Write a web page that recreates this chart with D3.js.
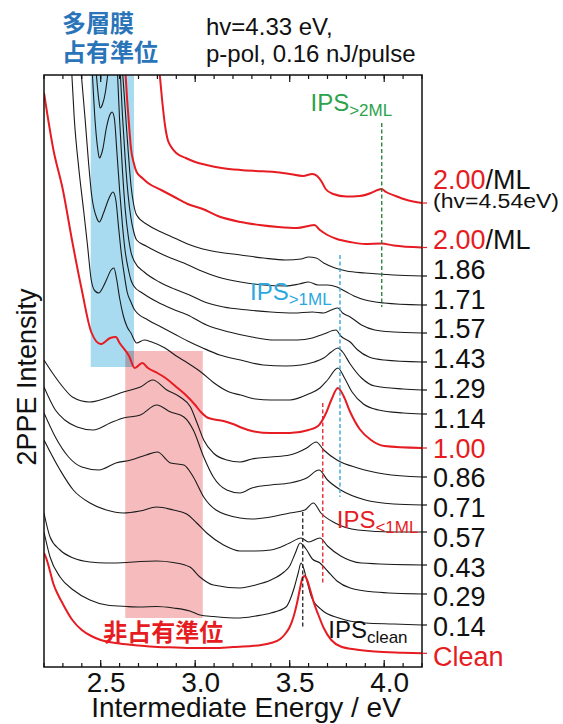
<!DOCTYPE html>
<html><head><meta charset="utf-8">
<script src="https://cdn.jsdelivr.net/npm/d3@7"></script>
<style>
body{margin:0;background:#fff;}
svg{display:block;font-family:"Liberation Sans",Arial,sans-serif;}
</style></head><body>
<svg id="chart" width="563" height="724"></svg>
<script>
// 2PPE spectra, stacked by coverage: [intermediate energy (eV), intensity (arb. u.)]
// null marks the stretch where a trace runs off the top of the scale.
const specClean = [[2.200,114],[2.215,107],[2.23,97],[2.25,83],[2.275,72],[2.30,63],[2.35,47],[2.40,37],[2.45,31],[2.50,27],[2.60,23.5],[2.70,21.5],[2.80,20],[2.90,19.5],[3.00,19],[3.10,19],[3.20,20],[3.30,21],[3.35,22],[3.40,24],[3.45,28],[3.48,34],[3.50,40],[3.52,50],[3.54,65],[3.555,79],[3.57,90],[3.58,91],[3.59,88],[3.61,76],[3.63,63],[3.65,53],[3.68,39],[3.72,27],[3.77,20.5],[3.85,17.5],[3.95,15.5],[4.10,14.3],[4.20,13.7]];
const spec014 = [[2.20,135],[2.232,110],[2.285,90],[2.355,77],[2.443,67],[2.532,62],[2.638,60.5],[2.708,60],[2.796,60.5],[2.884,59],[2.972,56],[3.025,52],[3.096,50.5],[3.237,49],[3.32,51],[3.40,54],[3.48,60],[3.525,80],[3.545,94],[3.56,104],[3.575,98],[3.59,87],[3.615,70],[3.67,57],[3.76,49],[3.90,44],[4.05,43],[4.20,42]];
const spec029 = [[2.20,154],[2.232,130],[2.285,117],[2.355,109],[2.443,105],[2.532,104],[2.638,104.5],[2.708,105.5],[2.796,106],[2.884,104.5],[2.972,100],[3.025,90],[3.096,82],[3.237,79],[3.32,82],[3.40,87],[3.47,95],[3.50,101],[3.53,114],[3.555,124],[3.57,122],[3.59,117],[3.62,108],[3.66,104],[3.70,96],[3.75,86],[3.82,79],[3.95,75],[4.20,73]];
const spec043 = [[2.20,227],[2.285,197],[2.355,177],[2.443,164],[2.53,157],[2.62,154],[2.708,156],[2.796,160],[2.884,157],[2.955,153],[3.008,144],[3.061,134],[3.15,122],[3.237,116],[3.32,116],[3.40,117],[3.50,124],[3.56,129],[3.60,125],[3.66,129],[3.70,121],[3.77,111],[3.88,104],[4.20,102]];
const spec057 = [[2.20,254],[2.26,230],[2.33,210],[2.40,200],[2.49,197],[2.58,204],[2.66,207],[2.74,212],[2.80,215],[2.87,204],[2.94,202],[2.99,190],[3.045,170],[3.11,157],[3.237,149],[3.30,148],[3.40,150],[3.50,154],[3.58,157],[3.625,164],[3.665,154],[3.74,144],[3.86,137],[4.05,135],[4.20,135]];
const spec071 = [[2.20,280],[2.26,257],[2.31,247],[2.375,240],[2.46,237],[2.55,244],[2.62,249],[2.71,252],[2.796,262],[2.87,255],[2.94,250],[2.99,237],[3.045,210],[3.096,190],[3.167,177],[3.237,174],[3.30,179],[3.40,182],[3.50,184],[3.59,189],[3.655,197],[3.70,187],[3.77,177],[3.90,167],[4.05,163],[4.20,162]];
const spec086 = [[2.20,307],[2.245,294],[2.30,280],[2.35,270],[2.44,265],[2.53,269],[2.62,275],[2.71,280],[2.775,287],[2.85,277],[2.92,270],[2.975,260],[3.01,244],[3.045,227],[3.096,214],[3.167,207],[3.237,205],[3.30,208],[3.40,210],[3.50,212],[3.59,219],[3.64,225],[3.68,217],[3.75,207],[3.86,199],[4.00,193],[4.20,190]];
const spec100 = [[2.20,574],[2.25,517],[2.30,477],[2.35,425],[2.40,377],[2.45,335],[2.50,323],[2.55,329],[2.58,330],[2.60,324],[2.65,311],[2.68,299],[2.72,304],[2.75,299],[2.80,294],[2.85,288],[2.90,280],[2.95,272],[3.00,262],[3.03,255],[3.07,249],[3.15,246],[3.20,243],[3.25,239],[3.30,236],[3.40,234],[3.50,234],[3.60,237],[3.65,241],[3.69,253],[3.72,267],[3.755,279],[3.785,271],[3.82,255],[3.87,238],[3.93,227],[4.00,221],[4.20,219]];
const spec114 = [[2.346,597],[2.36,549],[2.385,497],[2.41,456],[2.43,422],[2.45,387],[2.47,376],[2.49,374],[2.51,379],[2.53,387],[2.555,397],[2.57,399],[2.585,387],[2.60,369],[2.62,351],[2.64,340],[2.66,334],[2.69,324],[2.73,327],[2.77,325],[2.84,319],[2.90,311],[2.96,304],[3.03,295],[3.10,284],[3.18,275],[3.24,272],[3.32,268],[3.40,267],[3.50,267],[3.60,273],[3.66,279],[3.70,287],[3.755,299],[3.79,289],[3.83,275],[3.89,263],[3.97,257],[4.10,254],[4.20,253]];
const spec129 = [[2.395,597],[2.40,587],[2.417,549],[2.435,506],[2.452,472],[2.479,449],[2.493,445],[2.515,454],[2.54,467],[2.565,475],[2.58,467],[2.595,439],[2.61,412],[2.625,392],[2.64,375],[2.66,365],[2.68,357],[2.75,347],[2.82,340],[2.89,333],[2.96,326],[3.04,319],[3.13,312],[3.24,307],[3.36,302],[3.48,301],[3.56,302],[3.63,305],[3.68,309],[3.72,315],[3.755,319],[3.78,315],[3.82,303],[3.88,289],[3.95,281],[4.10,278],[4.20,277]];
const spec143 = [[2.455,597],[2.47,547],[2.485,517],[2.493,509],[2.51,517],[2.53,539],[2.548,552],[2.56,555],[2.572,549],[2.585,517],[2.60,477],[2.615,442],[2.63,415],[2.645,399],[2.66,387],[2.675,381],[2.72,374],[2.80,365],[2.88,358],[2.96,352],[3.06,342],[3.18,335],[3.30,330],[3.42,327],[3.54,327],[3.62,329],[3.68,333],[3.745,337],[3.77,331],[3.82,325],[3.86,317],[3.92,310],[4.00,307],[4.20,305]];
const spec157 = [[2.475,597],[2.49,567],[2.497,559],[2.51,563],[2.525,575],[2.54,597],[2.56,null],[2.588,597],[2.60,547],[2.615,497],[2.63,457],[2.645,432],[2.66,415],[2.68,405],[2.73,395],[2.81,385],[2.89,378],[2.97,372],[3.05,365],[3.15,360],[3.28,357],[3.40,355],[3.52,354],[3.62,355],[3.68,354],[3.72,357],[3.755,359],[3.78,354],[3.82,350],[3.88,342],[3.95,337],[4.05,335],[4.20,334]];
const spec171 = [[2.603,597],[2.615,552],[2.63,507],[2.645,472],[2.66,449],[2.675,435],[2.69,427],[2.74,421],[2.80,415],[2.87,409],[2.94,404],[3.02,397],[3.12,390],[3.24,385],[3.36,382],[3.48,381],[3.55,383],[3.60,385],[3.65,382],[3.70,382],[3.75,380],[3.80,375],[3.84,371],[3.90,367],[4.00,364],[4.20,362]];
const spec186 = [[2.615,597],[2.63,557],[2.645,517],[2.66,482],[2.675,462],[2.69,452],[2.75,442],[2.82,435],[2.89,429],[2.96,423],[3.04,418],[3.12,415],[3.24,412],[3.36,409],[3.48,407],[3.56,408],[3.60,410],[3.64,409],[3.68,404],[3.74,399],[3.80,396],[3.90,394],[4.05,392],[4.20,391]];
const spec200 = [[2.63,597],[2.64,567],[2.65,542],[2.66,519],[2.675,504],[2.69,495],[2.72,489],[2.75,484],[2.82,477],[2.89,470],[2.96,463],[3.04,458],[3.12,451],[3.24,445],[3.34,442],[3.44,440],[3.54,439],[3.60,441],[3.63,442],[3.66,437],[3.70,432],[3.75,428],[3.82,425],[3.90,423],[3.985,423.5],[4.05,421.5],[4.20,419.5]];
// 2.00 ML taken with hv = 4.54 eV
const spec200hv454 = [[2.81,597],[2.825,567],[2.84,542],[2.855,527],[2.87,521],[2.90,514],[2.95,509],[3.00,505],[3.06,502],[3.14,499],[3.24,497],[3.32,496],[3.42,495],[3.50,493],[3.57,491],[3.62,493],[3.645,491],[3.67,485],[3.69,478],[3.73,473],[3.80,470.5],[3.87,471],[3.93,474],[3.965,477],[3.985,478],[4.01,475],[4.06,471],[4.12,467],[4.20,464]];

const coverages = ["Clean","0.14","0.29","0.43","0.57","0.71","0.86","1.00","1.14","1.29","1.43","1.57","1.71","1.86","2.00"];
const spectra = [specClean,spec014,spec029,spec043,spec057,spec071,spec086,spec100,spec114,spec129,spec143,spec157,spec171,spec186,spec200];
const highlighted = ["Clean","1.00","2.00"];

// image-potential-state positions (eV) with the intensity span of each marker
const ipsMarks = [
  {name:"clean", e:3.569, lo:40, hi:155},
  {name:"<1ML", e:3.675, lo:84, hi:264},
  {name:">1ML", e:3.766, lo:170, hi:412},
  {name:">2ML", e:3.987, lo:360, hi:544}
];
// shaded energy bands
const occupiedBand = {e0:2.447, e1:2.676, lo:300, hi:592};
const unoccupiedBand = {e0:2.63, e1:3.04, lo:49, hi:316};

const xTicksMajor = [2.5, 3.0, 3.5, 4.0];
const xTicksMinor = d3.range(22, 43).map(d => d / 10);

const RED = "#e61c22", INK = "#1a1a1a";
const svg = d3.select("#chart");
const L = 44, R = 422, T = 75, B = 667;
const x = d3.scaleLinear().domain([2.2, 4.2]).range([L, R]);
const y = d3.scaleLinear().domain([0, 592]).range([B, T]);

svg.append("defs").append("clipPath").attr("id","plotClip")
  .append("rect").attr("x",L).attr("y",T).attr("width",R-L).attr("height",B-T);

const plot = svg.append("g").attr("clip-path","url(#plotClip)");

// shaded regions
plot.append("rect")
  .attr("x", x(unoccupiedBand.e0)).attr("width", x(unoccupiedBand.e1)-x(unoccupiedBand.e0))
  .attr("y", y(unoccupiedBand.hi)).attr("height", y(unoccupiedBand.lo)-y(unoccupiedBand.hi))
  .attr("fill","#f6bcbd");
plot.append("rect")
  .attr("x", x(occupiedBand.e0)).attr("width", x(occupiedBand.e1)-x(occupiedBand.e0))
  .attr("y", y(occupiedBand.hi)).attr("height", y(occupiedBand.lo)-y(occupiedBand.hi))
  .attr("fill","#a8dbf0").style("mix-blend-mode","multiply");

const line = d3.line()
  .defined(d => d[1] !== null)
  .x(d => x(d[0])).y(d => y(d[1]))
  .curve(d3.curveMonotoneX);

const series = coverages.map((c, i) => ({label:c, data:spectra[i], red:highlighted.includes(c)}));
series.push({label:"2.00 (hv=4.54eV)", data:spec200hv454, red:true});

plot.selectAll("path.trace").data(series.filter(s => !s.red)).join("path")
  .attr("class","trace").attr("d", s => line(s.data))
  .attr("fill","none").attr("stroke",INK).attr("stroke-width",1.1);
plot.selectAll("path.traceRed").data(series.filter(s => s.red)).join("path")
  .attr("class","traceRed").attr("d", s => line(s.data))
  .attr("fill","none").attr("stroke",RED).attr("stroke-width",2);

// IPS markers
const markColor = {"clean":"#222", "<1ML":RED, ">1ML":"#2a9fd6", ">2ML":"#1e7a34"};
plot.selectAll("line.ips").data(ipsMarks).join("line")
  .attr("x1", d => x(d.e)).attr("x2", d => x(d.e))
  .attr("y1", d => y(d.hi)).attr("y2", d => y(d.lo))
  .attr("stroke", d => markColor[d.name]).attr("stroke-width",1.3)
  .attr("stroke-dasharray","4,2.5");

// frame
svg.append("rect").attr("x",L).attr("y",T).attr("width",R-L).attr("height",B-T)
  .attr("fill","none").attr("stroke","#111").attr("stroke-width",1.5);

// inward ticks, bottom and top
function tickRow(yPos, dir) {
  const g = svg.append("g");
  g.selectAll("line.minor").data(xTicksMinor).join("line")
    .attr("x1", d => x(d)).attr("x2", d => x(d))
    .attr("y1", yPos).attr("y2", yPos + dir * 4)
    .attr("stroke","#111").attr("stroke-width",1.2);
  g.selectAll("line.major").data(xTicksMajor).join("line")
    .attr("x1", d => x(d)).attr("x2", d => x(d))
    .attr("y1", yPos).attr("y2", yPos + dir * 7)
    .attr("stroke","#111").attr("stroke-width",1.2);
}
tickRow(B, -1);
tickRow(T, 1);

// tick labels via axis
const xAxis = d3.axisBottom(x).tickValues(xTicksMajor).tickSize(0).tickPadding(5).tickFormat(d3.format(".1f"));
const ax = svg.append("g").attr("transform",`translate(0,${B})`).call(xAxis);
ax.select(".domain").remove();
ax.selectAll("text").attr("font-size",28).attr("fill","#111").attr("dx",5)
  .style("font-family",'"Liberation Sans",Arial,sans-serif');

svg.append("text").attr("x",246).attr("y",717).attr("text-anchor","middle")
  .attr("font-size",28).attr("fill","#111").text("Intermediate Energy / eV");
svg.append("text").attr("transform","translate(36,377) rotate(-90)").attr("text-anchor","middle")
  .attr("font-size",27).attr("fill","#111").text("2PPE Intensity");

// coverage ticks on the right edge
svg.selectAll("line.endTick").data(series).join("line")
  .attr("x1",R).attr("x2",R+5)
  .attr("y1", s => y(s.data[s.data.length-1][1])).attr("y2", s => y(s.data[s.data.length-1][1]))
  .attr("stroke", s => s.red ? RED : "#111").attr("stroke-width",1.2);

// coverage labels in an evenly spaced column
const labelX = 433, labelBottom = 666, labelTop = 249;
const step = (labelBottom - labelTop) / (coverages.length - 1);
coverages.forEach((c, i) => {
  const t = svg.append("text").attr("x",labelX).attr("y",labelBottom - i*step).attr("font-size",27);
  const red = highlighted.includes(c);
  t.append("tspan").attr("fill", red ? RED : "#111").text(c);
  if (c === "2.00") t.append("tspan").attr("fill","#111").text("/ML");
});
const top2 = svg.append("text").attr("x",labelX).attr("y",189).attr("font-size",27);
top2.append("tspan").attr("fill",RED).text("2.00");
top2.append("tspan").attr("fill","#111").text("/ML");
svg.append("text").attr("x",labelX).attr("y",208).attr("font-size",20)
  .attr("textLength",126).attr("lengthAdjust","spacingAndGlyphs").attr("fill","#111").text("(hv=4.54eV)");

// IPS labels
const ipsLabels = [
  {main:"IPS", sub:">2ML", e:3.61, v:556, color:"#2ca24b"},
  {main:"IPS", sub:">1ML", e:3.29, v:367, color:"#2da7df"},
  {main:"IPS", sub:"<1ML", e:3.749, v:139, color:RED},
  {main:"IPS", sub:"clean", e:3.704, v:29, color:"#111"}
];
ipsLabels.forEach(d => {
  const t = svg.append("text").attr("x",x(d.e)).attr("y",y(d.v)).attr("font-size",24).attr("fill",d.color);
  t.append("tspan").text(d.main);
  t.append("tspan").attr("font-size",17).attr("dy",5).text(d.sub);
});

// state annotations
const cjk = '"Noto Sans CJK JP","Noto Sans CJK SC",sans-serif';
svg.append("text").attr("x",x(2.514)).attr("y",y(26)).attr("font-size",24).attr("font-weight","bold")
  .style("font-family",cjk).attr("fill",RED).text("非占有準位");
svg.append("text").attr("x",62).attr("y",32).attr("font-size",24).attr("font-weight","bold")
  .style("font-family",cjk).attr("fill","#2a74b9").text("多層膜");
svg.append("text").attr("x",62).attr("y",61).attr("font-size",24).attr("font-weight","bold")
  .style("font-family",cjk).attr("fill","#2a74b9").text("占有準位");

// measurement conditions
svg.append("text").attr("x",206).attr("y",35).attr("font-size",24).attr("fill","#111").text("hv=4.33 eV,");
svg.append("text").attr("x",206).attr("y",62).attr("font-size",24).attr("fill","#111").text("p-pol, 0.16 nJ/pulse");
</script>
</body></html>
